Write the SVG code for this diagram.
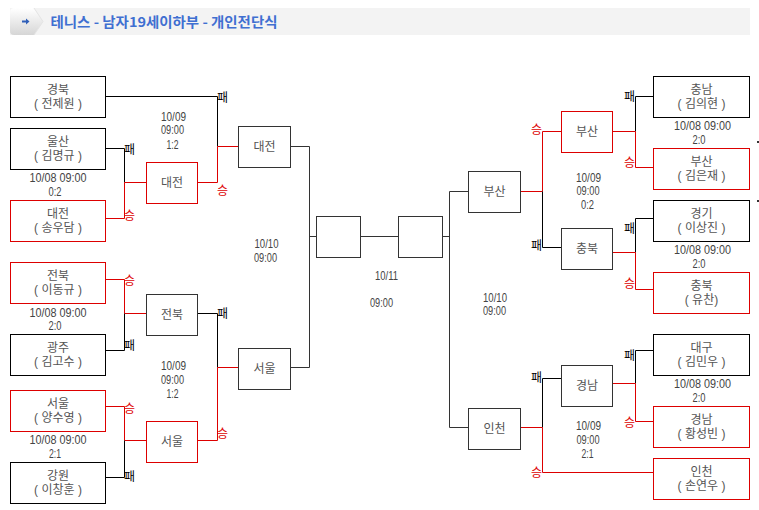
<svg xmlns="http://www.w3.org/2000/svg" width="759" height="510" viewBox="0 0 759 510">
<style>
.bk{fill:#fff;stroke:#000;stroke-width:1}
.rd{fill:#fff;stroke:#dd0000;stroke-width:1}
.gy{fill:#fff;stroke:#333;stroke-width:1}
.lb{fill:none;stroke:#000;stroke-width:1}
.lg{fill:none;stroke:#333;stroke-width:1}
.lr{fill:none;stroke:#dd0000;stroke-width:1}
.n{font-family:"Liberation Sans","Noto Sans CJK KR",sans-serif;font-size:12px;fill:#555;text-anchor:middle}
.d{font-family:"Liberation Sans","DejaVu Sans",sans-serif;font-size:12px;fill:#444;text-anchor:middle}
.w{font-family:"Noto Sans CJK KR",sans-serif;font-size:12px;fill:#dd0000}
.l{font-family:"Noto Sans CJK KR",sans-serif;font-size:12px;fill:#000}
.e{text-anchor:end}
.t{font-family:"Noto Sans CJK KR","Noto Sans",sans-serif;font-size:13.5px;font-weight:bold;fill:#3f6fd1}
</style>
<defs>
<linearGradient id="tab" x1="0" y1="0" x2="0" y2="1">
<stop offset="0" stop-color="#ffffff"/>
<stop offset="1" stop-color="#d6d6d6"/>
</linearGradient>
</defs>
<rect width="759" height="510" fill="#fff"/>
<g id="header">
<rect x="10" y="8" width="740" height="27" fill="#f3f3f3"/>
<path d="M14 8 H34 L43 21.5 L34 35 H14 Q10 35 10 31 V12 Q10 8 14 8 Z" fill="url(#tab)"/>
<path d="M34 8 L43 21.5 L34 35" fill="none" stroke="#e4e4e4" stroke-width="1"/>
<polygon points="22,20.5 26,20.5 26,18.5 29.5,21.5 26,24.5 26,22.5 22,22.5" fill="#2f5fb8"/>
<text class="t" x="50.5" y="27" textLength="227" lengthAdjust="spacingAndGlyphs">테니스 - 남자19세이하부 - 개인전단식</text>
</g>
<g id="connectors">
<path class="lb" d="M106 96.5 H217.5 V146.5"/>
<path class="lr" d="M197.5 182.5 H217.5 V146.5 H238.5"/>
<path class="lb" d="M106 148.5 H124.5 V182.5"/>
<path class="lr" d="M106 218.5 H124.5 V182.5 H146.5"/>
<path class="lg" d="M290.5 146.5 H309.5 V367.5 H290.5"/>
<path class="lg" d="M309.5 236.5 H316.5"/>
<path class="lr" d="M106 279.5 H124.5 V313.5 H146.5"/>
<path class="lb" d="M106 350.5 H124.5 V313.5"/>
<path class="lb" d="M197.5 313.5 H217.5 V367.5"/>
<path class="lr" d="M197.5 440.5 H217.5 V367.5 H238.5"/>
<path class="lr" d="M106 406.5 H124.5 V440.5 H146.5"/>
<path class="lb" d="M106 477.5 H124.5 V440.5"/>
<path class="lg" d="M360.5 236.5 H398.5"/>
<path class="lg" d="M442.5 236.5 H449.5"/>
<path class="lb" d="M653 96.5 H635.5 V131.5"/>
<path class="lr" d="M612.5 131.5 H635.5 V167.5 H653"/>
<path class="lr" d="M561.5 131.5 H542.5 V191.5 H520.5"/>
<path class="lb" d="M542.5 191.5 V247.5 H561.5"/>
<path class="lg" d="M468.5 191.5 H449.5 V427.5 H468.5"/>
<path class="lb" d="M653 218.5 H635.5 V252.5"/>
<path class="lr" d="M612.5 252.5 H635.5 V289.5 H653"/>
<path class="lb" d="M653 350.5 H635.5 V383.5"/>
<path class="lr" d="M612.5 383.5 H635.5 V421.5 H653"/>
<path class="lb" d="M561.5 378.5 H542.5 V427.5"/>
<path class="lr" d="M520.5 427.5 H542.5 V472.5 H653"/>
</g>
<g id="labels">
<text class="l" x="217" y="102">패</text>
<text class="l" x="124" y="154">패</text>
<text class="w" x="124" y="219.5">승</text>
<text class="w" x="217" y="194.5">승</text>
<text class="w" x="124" y="284.5">승</text>
<text class="l" x="124" y="349.5">패</text>
<text class="l" x="217" y="317.5">패</text>
<text class="w" x="124" y="412.5">승</text>
<text class="w" x="217" y="437.5">승</text>
<text class="l" x="124" y="480.5">패</text>
<text class="l e" x="635" y="100.5">패</text>
<text class="w e" x="542" y="133.5">승</text>
<text class="w e" x="635" y="166.5">승</text>
<text class="l e" x="635" y="232.5">패</text>
<text class="l e" x="542" y="249.5">패</text>
<text class="w e" x="635" y="287.5">승</text>
<text class="l e" x="635" y="359.5">패</text>
<text class="l e" x="542" y="381.5">패</text>
<text class="w e" x="635" y="426.5">승</text>
<text class="w e" x="542" y="476.5">승</text>
</g>
<g id="dates">
<text class="d" x="58" y="182" textLength="57" lengthAdjust="spacingAndGlyphs">10/08  09:00</text>
<text class="d" x="55" y="196" textLength="13" lengthAdjust="spacingAndGlyphs">0:2</text>
<text class="d" x="58" y="316.5" textLength="57" lengthAdjust="spacingAndGlyphs">10/08  09:00</text>
<text class="d" x="55" y="330" textLength="13" lengthAdjust="spacingAndGlyphs">2:0</text>
<text class="d" x="58" y="444" textLength="57" lengthAdjust="spacingAndGlyphs">10/08  09:00</text>
<text class="d" x="55" y="458" textLength="12" lengthAdjust="spacingAndGlyphs">2:1</text>
<text class="d" x="173.5" y="120.5" textLength="25" lengthAdjust="spacingAndGlyphs">10/09</text>
<text class="d" x="172.5" y="134" textLength="23" lengthAdjust="spacingAndGlyphs">09:00</text>
<text class="d" x="172.5" y="148.5" textLength="12" lengthAdjust="spacingAndGlyphs">1:2</text>
<text class="d" x="173.5" y="370" textLength="25" lengthAdjust="spacingAndGlyphs">10/09</text>
<text class="d" x="172.5" y="383.5" textLength="23" lengthAdjust="spacingAndGlyphs">09:00</text>
<text class="d" x="172.5" y="397.5" textLength="12" lengthAdjust="spacingAndGlyphs">1:2</text>
<text class="d" x="266.5" y="248" textLength="24" lengthAdjust="spacingAndGlyphs">10/10</text>
<text class="d" x="265.5" y="262" textLength="23" lengthAdjust="spacingAndGlyphs">09:00</text>
<text class="d" x="386.5" y="279.5" textLength="23" lengthAdjust="spacingAndGlyphs">10/11</text>
<text class="d" x="381.5" y="307" textLength="23" lengthAdjust="spacingAndGlyphs">09:00</text>
<text class="d" x="495" y="301.5" textLength="24" lengthAdjust="spacingAndGlyphs">10/10</text>
<text class="d" x="494.5" y="314.5" textLength="23" lengthAdjust="spacingAndGlyphs">09:00</text>
<text class="d" x="588.5" y="181.5" textLength="25" lengthAdjust="spacingAndGlyphs">10/09</text>
<text class="d" x="588" y="195" textLength="23" lengthAdjust="spacingAndGlyphs">09:00</text>
<text class="d" x="587.5" y="209" textLength="13" lengthAdjust="spacingAndGlyphs">0:2</text>
<text class="d" x="588.5" y="430" textLength="25" lengthAdjust="spacingAndGlyphs">10/09</text>
<text class="d" x="588" y="444" textLength="23" lengthAdjust="spacingAndGlyphs">09:00</text>
<text class="d" x="587.5" y="458" textLength="12" lengthAdjust="spacingAndGlyphs">2:1</text>
<text class="d" x="702.5" y="130" textLength="57" lengthAdjust="spacingAndGlyphs">10/08  09:00</text>
<text class="d" x="699" y="144" textLength="13" lengthAdjust="spacingAndGlyphs">2:0</text>
<text class="d" x="702.5" y="254" textLength="57" lengthAdjust="spacingAndGlyphs">10/08  09:00</text>
<text class="d" x="699" y="268" textLength="13" lengthAdjust="spacingAndGlyphs">2:0</text>
<text class="d" x="702.5" y="388" textLength="57" lengthAdjust="spacingAndGlyphs">10/08  09:00</text>
<text class="d" x="699" y="402" textLength="13" lengthAdjust="spacingAndGlyphs">2:0</text>
</g>
<g id="n-gyeongbuk"><rect class="bk" x="10.5" y="76.5" width="95" height="41"/><text class="n" x="58" y="94">경북</text><text class="n" x="58" y="108">( 전제원 )</text></g>
<g id="n-ulsan"><rect class="bk" x="10.5" y="128.5" width="95" height="41"/><text class="n" x="58" y="146">울산</text><text class="n" x="58" y="160">( 김명규 )</text></g>
<g id="n-daejeon-seed"><rect class="rd" x="10.5" y="200.5" width="95" height="41"/><text class="n" x="58" y="218">대전</text><text class="n" x="58" y="232">( 송우담 )</text></g>
<g id="n-jeonbuk-seed"><rect class="rd" x="10.5" y="262.5" width="95" height="41"/><text class="n" x="58" y="280">전북</text><text class="n" x="58" y="294">( 이동규 )</text></g>
<g id="n-gwangju"><rect class="bk" x="10.5" y="334.5" width="95" height="41"/><text class="n" x="58" y="352">광주</text><text class="n" x="58" y="366">( 김고수 )</text></g>
<g id="n-seoul-seed"><rect class="rd" x="10.5" y="390.5" width="95" height="41"/><text class="n" x="58" y="408">서울</text><text class="n" x="58" y="422">( 양수영 )</text></g>
<g id="n-gangwon"><rect class="bk" x="10.5" y="462.5" width="95" height="41"/><text class="n" x="58" y="480">강원</text><text class="n" x="58" y="494">( 이창훈 )</text></g>
<g id="n-daejeon-r1"><rect class="rd" x="146.5" y="162.5" width="51" height="41"/><text class="n" x="172" y="187">대전</text></g>
<g id="n-jeonbuk-r1"><rect class="gy" x="146.5" y="294.5" width="51" height="41"/><text class="n" x="172" y="319">전북</text></g>
<g id="n-seoul-r1"><rect class="rd" x="146.5" y="421.5" width="51" height="41"/><text class="n" x="172" y="446">서울</text></g>
<g id="n-daejeon-r2"><rect class="gy" x="238.5" y="126.5" width="52" height="41"/><text class="n" x="264.5" y="151">대전</text></g>
<g id="n-seoul-r2"><rect class="gy" x="238.5" y="348.5" width="52" height="41"/><text class="n" x="264.5" y="373">서울</text></g>
<g id="n-final-left"><rect class="gy" x="316.5" y="216.5" width="44" height="41"/></g>
<g id="n-final-right"><rect class="gy" x="398.5" y="216.5" width="44" height="41"/></g>
<g id="n-busan-r2"><rect class="gy" x="468.5" y="171.5" width="52" height="41"/><text class="n" x="494.5" y="196">부산</text></g>
<g id="n-incheon-r2"><rect class="gy" x="468.5" y="408.5" width="52" height="41"/><text class="n" x="494.5" y="433">인천</text></g>
<g id="n-busan-r1"><rect class="rd" x="561.5" y="111.5" width="51" height="41"/><text class="n" x="587" y="136">부산</text></g>
<g id="n-chungbuk-r1"><rect class="gy" x="561.5" y="228.5" width="51" height="41"/><text class="n" x="587" y="253">충북</text></g>
<g id="n-gyeongnam-r1"><rect class="gy" x="561.5" y="365.5" width="51" height="41"/><text class="n" x="587" y="390">경남</text></g>
<g id="n-chungnam"><rect class="bk" x="653.5" y="76.5" width="96" height="41"/><text class="n" x="701.5" y="94">충남</text><text class="n" x="701.5" y="108">( 김의현 )</text></g>
<g id="n-busan-seed"><rect class="rd" x="653.5" y="148.5" width="96" height="41"/><text class="n" x="701.5" y="166">부산</text><text class="n" x="701.5" y="180">( 김은재 )</text></g>
<g id="n-gyeonggi"><rect class="bk" x="653.5" y="200.5" width="96" height="41"/><text class="n" x="701.5" y="218">경기</text><text class="n" x="701.5" y="232">( 이상진 )</text></g>
<g id="n-chungbuk-seed"><rect class="rd" x="653.5" y="272.5" width="96" height="41"/><text class="n" x="701.5" y="290">충북</text><text class="n" x="701.5" y="304">( 유찬)</text></g>
<g id="n-daegu"><rect class="bk" x="653.5" y="334.5" width="96" height="41"/><text class="n" x="701.5" y="352">대구</text><text class="n" x="701.5" y="366">( 김민우 )</text></g>
<g id="n-gyeongnam-seed"><rect class="rd" x="653.5" y="406.5" width="96" height="41"/><text class="n" x="701.5" y="424">경남</text><text class="n" x="701.5" y="438">( 황성빈 )</text></g>
<g id="n-incheon-seed"><rect class="rd" x="653.5" y="458.5" width="96" height="41"/><text class="n" x="701.5" y="476">인천</text><text class="n" x="701.5" y="490">( 손연우 )</text></g>
<g id="dots"><rect x="757" y="141" width="2" height="2" fill="#333"/><rect x="757" y="200" width="2" height="2" fill="#333"/></g>
</svg>
